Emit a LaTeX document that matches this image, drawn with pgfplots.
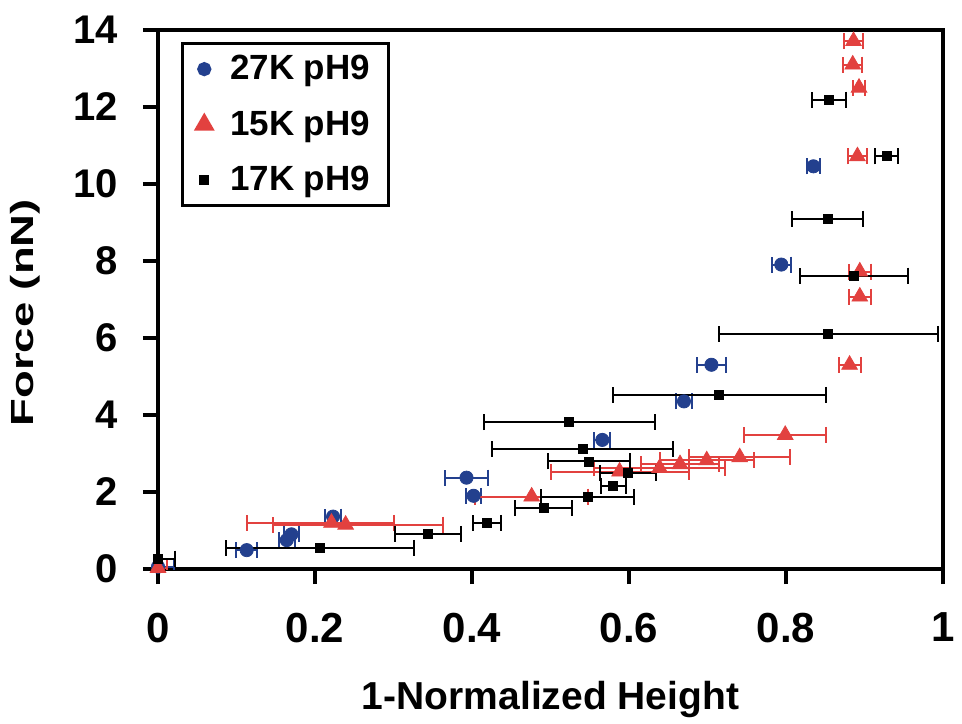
\documentclass[border=0pt]{standalone}
\usepackage{fontspec}
\setmainfont{Liberation Sans}
\usepackage{pgfplots}
\pgfplotsset{compat=1.18}
\definecolor{navy27}{HTML}{23408E}
\definecolor{red15}{HTML}{E2413F}

\begin{document}
\begin{tikzpicture}
\begin{axis}[
at={(0,0)},
anchor=south west,
scale only axis,
width=392.5pt,
height=269.75pt,
xmin=0, xmax=1,
ymin=0, ymax=14,
xtick={0,0.2,0.4,0.6,0.8,1},
xticklabels={0,0.2,0.4,0.6,0.8,1},
ytick={0,2,4,6,8,10,12,14},
tick pos=left,
tick align=outside,
major tick length=7.5pt,
every tick/.style={line width=2pt, black},
axis line style={line width=2pt},
/pgf/number format/assume math mode=true,
yticklabel style={font=\fontsize{20}{24}\selectfont\bfseries, xshift=-9pt},
xticklabel style={font=\fontsize{21}{25}\selectfont\bfseries, yshift=-11pt},
xlabel={1-Normalized Height},
ylabel={\scalebox{1.42}[1]{Force (nN)}},
xlabel style={font=\fontsize{19.5}{23}\selectfont\bfseries,
  at={(axis description cs:0.5,-0.2428)}, anchor=center},
ylabel style={font=\fontsize{16}{19}\selectfont\bfseries,
  at={(axis description cs:-0.1694,0.475)}, anchor=center},
legend style={at={(rel axis cs:0.0293,0.977)}, anchor=north west,
  draw=black, line width=1.5pt, font=\fontsize{17.5}{21}\selectfont\bfseries,
  row sep=10pt, inner xsep=7pt, inner ysep=4pt,
  /tikz/every odd column/.append style={column sep=7pt}},
legend cell align=left,
error bars/error mark=|,
error bars/error bar style={line width=1pt},
error bars/error mark options={line width=1pt, mark size=4pt},
]
% 27K pH9
\addplot[only marks, mark=*, mark size=3.3pt, color=navy27,
  legend image post style={mark size=2.8pt},
  error bars/.cd, x dir=both, x explicit] coordinates {
(0.000, 0.06) +- (0.020,0)
(0.113, 0.49) +- (0.013,0)
(0.164, 0.75) +- (0.010,0)
(0.170, 0.90) +- (0.010,0)
(0.223, 1.36) +- (0.010,0)
(0.393, 2.37) +- (0.028,0)
(0.402, 1.90) +- (0.010,0)
(0.566, 3.35) +- (0.010,0)
(0.670, 4.35) +- (0.010,0)
(0.705, 5.30) +- (0.018,0)
(0.794, 7.90) +- (0.012,0)
(0.835, 10.45) +- (0.008,0)
};
\addlegendentry{27K pH9}
% 15K pH9
\addplot[only marks, mark=triangle*, mark size=4.5pt, color=red15,
  error bars/.cd, x dir=both, x explicit] coordinates {
(0.000, 0.03) +- (0.012,0)
(0.221, 1.20) += (0.080,0) -= (0.107,0)
(0.239, 1.15) += (0.124,0) -= (0.092,0)
(0.476, 1.88) +- (0.072,0)
(0.588, 2.53) +- (0.088,0)
(0.639, 2.62) +- (0.083,0)
(0.665, 2.72) +- (0.050,0)
(0.699, 2.82) +- (0.060,0)
(0.741, 2.90) +- (0.064,0)
(0.799, 3.48) +- (0.052,0)
(0.881, 5.30) +- (0.014,0)
(0.894, 7.07) +- (0.014,0)
(0.894, 7.72) +- (0.014,0)
(0.891, 10.71) +- (0.012,0)
(0.893, 12.49) +- (0.008,0)
(0.885, 13.09) +- (0.012,0)
(0.886, 13.70) +- (0.012,0)
};
\addlegendentry{15K pH9}
% 17K pH9
\addplot[only marks, mark=square*, mark size=2.25pt, color=black,
  legend image post style={mark size=1.8pt},
  error bars/.cd, x dir=both, x explicit] coordinates {
(0.000, 0.27) +- (0.022,0)
(0.206, 0.55) +- (0.120,0)
(0.344, 0.91) +- (0.042,0)
(0.419, 1.20) +- (0.018,0)
(0.491, 1.58) +- (0.036,0)
(0.547, 1.86) +- (0.059,0)
(0.580, 2.15) +- (0.016,0)
(0.599, 2.50) +- (0.036,0)
(0.549, 2.79) +- (0.052,0)
(0.541, 3.12) +- (0.115,0)
(0.524, 3.81) +- (0.109,0)
(0.715, 4.52) +- (0.136,0)
(0.854, 6.10) +- (0.139,0)
(0.887, 7.61) +- (0.069,0)
(0.853, 9.09) +- (0.045,0)
(0.928, 10.71) +- (0.015,0)
(0.855, 12.18) +- (0.022,0)
};
\addlegendentry{17K pH9}
\draw[line width=2pt] (rel axis cs:0,1) -- (rel axis cs:1,1) -- (rel axis cs:1,0);
\end{axis}
\pgfresetboundingbox
\path (-79pt,-77pt) rectangle (402pt,284.5pt);
\end{tikzpicture}
\end{document}
